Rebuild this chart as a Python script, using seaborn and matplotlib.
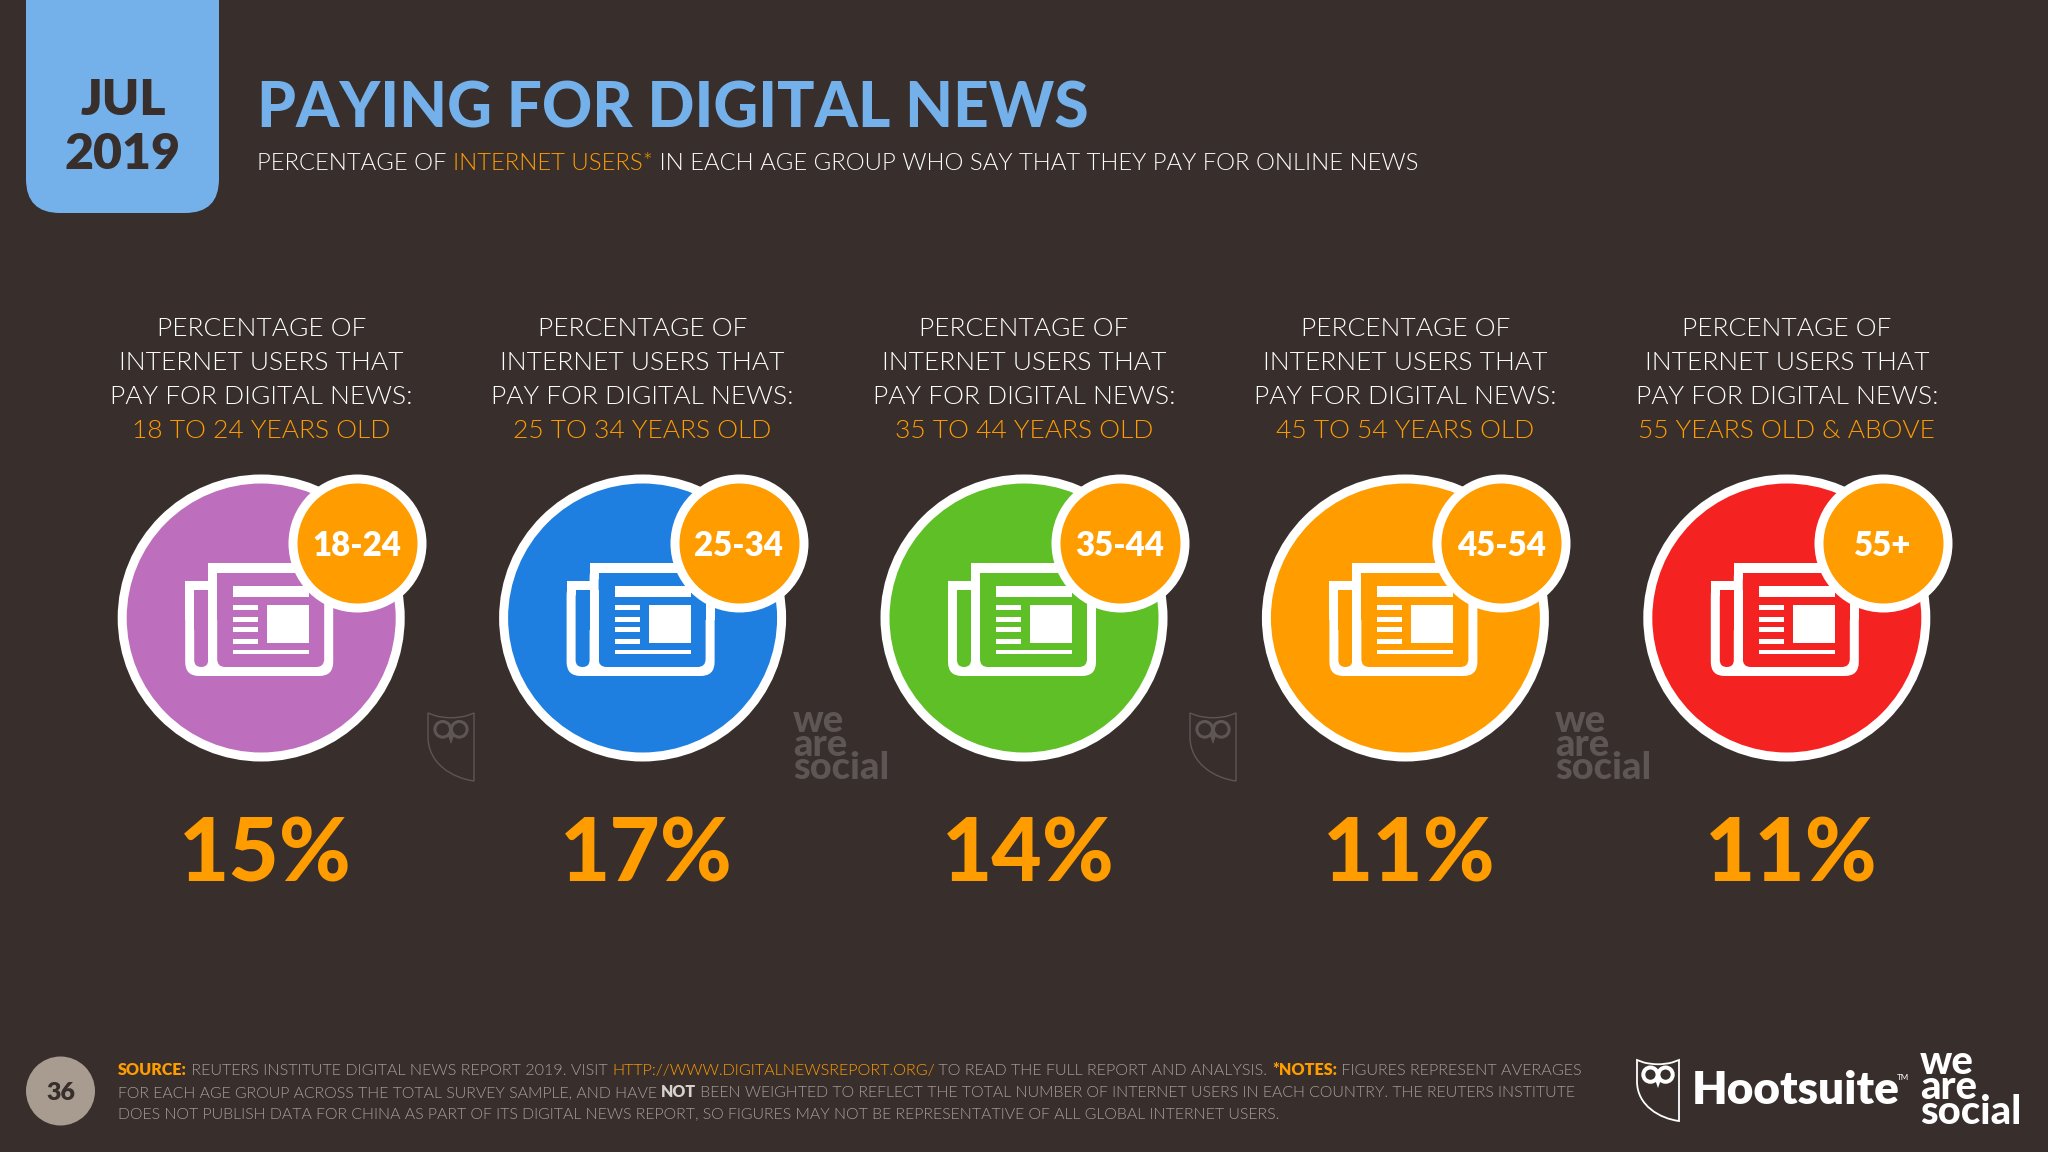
import re, os
import matplotlib
matplotlib.use("Agg")
import matplotlib.pyplot as plt
from matplotlib import font_manager as fm
from matplotlib.patches import FancyBboxPatch, Rectangle, PathPatch, Circle
from matplotlib.path import Path
import seaborn as sns
import pandas as pd

sns.set_theme(style="white")
plt.rcParams['font.family'] = ['Lato', 'DejaVu Sans']

age_badges = ["18-24", "25-34", "35-44", "45-54", "55+"]
age_labels = ["18 TO 24 YEARS OLD", "25 TO 34 YEARS OLD", "35 TO 44 YEARS OLD",
              "45 TO 54 YEARS OLD", "55 YEARS OLD & ABOVE"]
pay_share = [15, 17, 14, 11, 11]
circle_colors = ["#BD6FBD", "#1F7FE0", "#5FBF26", "#FF9C00", "#F52222"]

BG = "#382F2D"; ORANGE = "#FF9C00"; BLUE = "#74B1EA"; GREY = "#A89F98"; MARK = "#5E5654"

# Lato Light picked by file, since the weight name alone lands on a thinner cut
light_file = None
for f in fm.fontManager.ttflist:
    if re.fullmatch(r"Lato-Light\.[ot]tf", os.path.basename(f.fname)):
        light_file = f.fname
        break

def fprops(weight):
    if weight == "light":
        if light_file:
            return {"fontproperties": fm.FontProperties(fname=light_file)}
        return {"fontweight": "normal"}
    return {"fontweight": weight}

fig = plt.figure(figsize=(20.48, 11.52), dpi=100, facecolor=BG)
ax = fig.add_axes([0, 0, 1, 1])
ax.set_xlim(0, 2048); ax.set_ylim(1152, 0); ax.axis("off")
renderer = fig.canvas.get_renderer()

def pt(px):
    return px * 0.72

def put(x, y, s, size, color, weight, **kw):
    t = ax.text(x, y, s, color=color, va="baseline", **fprops(weight), **kw)
    t.set_fontsize(size)
    return t

def width(s, size, weight):
    t = put(0, 0, s + "|", size, "white", weight)
    a = t.get_window_extent(renderer).width
    t.set_text("|")
    b = t.get_window_extent(renderer).width
    t.remove()
    return a - b

def runs(x, y, parts, size):
    for s, color, weight in parts:
        put(x, y, s, size, color, weight, ha="left")
        x += width(s, size, weight)

def owl(x0, y0, w, h, color, lw, z=3):
    def P(a, b):
        return (x0 + a * w, y0 + b * h)
    verts = [P(0, 0), P(.16, .04), P(.32, .07), P(.5, .07), P(.68, .07), P(.84, .04), P(1, 0),
             P(1, 1), P(.55, .96), P(0, .75), P(0, .35), P(0, 0)]
    codes = [Path.MOVETO, Path.LINETO, Path.CURVE3, Path.CURVE3, Path.CURVE3, Path.CURVE3, Path.LINETO,
             Path.LINETO, Path.CURVE4, Path.CURVE4, Path.CURVE4, Path.CLOSEPOLY]
    ax.add_patch(PathPatch(Path(verts, codes), fc="none", ec=color, lw=lw, zorder=z))
    for a in (.32, .68):
        ax.add_patch(Circle(P(a, .24), w * .17, fc="none", ec=color, lw=lw * 2.2, zorder=z))
    ax.add_patch(PathPatch(Path([P(.42, .3), P(.58, .3), P(.5, .46), P(.42, .3)]), fc=color, ec="none", zorder=z))

# ---- header
ax.add_patch(FancyBboxPatch((26, -60), 193, 273, boxstyle="round,pad=0,rounding_size=34",
                            fc=BLUE, ec="none", zorder=1))
put(123, 115, "JUL", pt(50), BG, "heavy", ha="center", zorder=2)
put(123, 169, "2019", pt(50), BG, "heavy", ha="center", zorder=2)
put(257, 127, "PAYING FOR DIGITAL NEWS", pt(62), BLUE, "black")
runs(257, 170, [("PERCENTAGE OF ", "white", "light"), ("INTERNET USERS*", ORANGE, "light"),
                (" IN EACH AGE GROUP WHO SAY THAT THEY PAY FOR ONLINE NEWS", "white", "light")], pt(23.9))

# ---- columns
centers = [261.2 + 381.4 * i for i in range(len(pay_share))]
df = pd.DataFrame({"x": centers, "y": [618] * 5, "age": age_badges})
d_main = pt(278); d_badge = pt(129)
sns.scatterplot(data=df, x="x", y="y", hue="age", palette=circle_colors, s=d_main ** 2,
                edgecolor="white", linewidth=pt(9), legend=False, ax=ax, zorder=2, clip_on=False)
ax.set_xlim(0, 2048); ax.set_ylim(1152, 0); ax.axis("off")

for cx, age, val, lab, col in zip(centers, age_badges, pay_share, age_labels, circle_colors):
    for y, s, c in [(336, "PERCENTAGE OF", "white"), (370, "INTERNET USERS THAT", "white"),
                    (404, "PAY FOR DIGITAL NEWS:", "white"), (438, lab, ORANGE)]:
        put(cx, y, s, pt(26.4), c, "light", ha="center")
    # newspaper icon
    def box(x0, y0, x1, y1, fc, r=0, z=3):
        if r:
            ax.add_patch(FancyBboxPatch((cx + x0, y0), x1 - x0, y1 - y0,
                                        boxstyle=f"round,pad=0,rounding_size={r}", fc=fc, ec="none", zorder=z))
        else:
            ax.add_patch(Rectangle((cx + x0, y0), x1 - x0, y1 - y0, fc=fc, ec="none", zorder=z))
    box(-76, 581, 40, 676, "white", 14)
    box(-53, 563, 72, 676, "white", 14)
    box(-76, 581, -40, 620, "white", 0)
    box(-53, 563, 72, 620, "white", 0)
    box(-44, 573, 63, 667, col, 8, 4)
    box(-44, 573, 63, 620, col, 0, 4)
    box(-67, 590, -53, 667, col, 7, 4)
    box(-67, 590, -53, 630, col, 0, 4)
    box(-53, 590, -44, 676, "white", 0, 5)
    box(-28, 586, 48, 597, "white", 0, 5)
    box(6, 605, 48, 643, "white", 0, 5)
    for yy in (605, 617, 627, 639):
        box(-28, yy, -3, yy + 4.5, "white", 0, 5)
    box(-28, 650, 48, 654, "white", 0, 5)
    put(cx + 4, 882, f"{val}%", pt(87), ORANGE, "black", ha="center")

bdf = pd.DataFrame({"x": [c + 96 for c in centers], "y": [543] * 5})
sns.scatterplot(data=bdf, x="x", y="y", color=ORANGE, s=d_badge ** 2, edgecolor="white",
                linewidth=pt(9), legend=False, ax=ax, zorder=6, clip_on=False)
ax.set_xlim(0, 2048); ax.set_ylim(1152, 0); ax.axis("off")
for cx, age in zip(centers, age_badges):
    put(cx + 96, 556, age, pt(33), "white", "heavy", ha="center", zorder=7)

# ---- watermarks
for x0 in (428, 1190):
    owl(x0, 713, 46, 68, MARK, 1.0)
for x0 in (793, 1555):
    put(x0, 779, "we\nare\nsocial", pt(38), MARK, "black", linespacing=0.62, ha="left")

# ---- footer
ax.add_patch(Circle((60.5, 1091), 34.5, fc="#A79C8F", ec="none"))
put(60.5, 1100, "36", pt(25), BG, "heavy", ha="center")
fs = pt(16.1); fs2 = pt(15.9)
runs(118, 1075, [("SOURCE:", ORANGE, "heavy"), (" REUTERS INSTITUTE DIGITAL NEWS REPORT 2019. VISIT ", GREY, "light"),
                 ("HTTP://WWW.DIGITALNEWSREPORT.ORG/", ORANGE, "light"),
                 (" TO READ THE FULL REPORT AND ANALYSIS. ", GREY, "light"), ("*NOTES:", ORANGE, "heavy"),
                 (" FIGURES REPRESENT AVERAGES", GREY, "light")], fs)
runs(118, 1097, [("FOR EACH AGE GROUP ACROSS THE TOTAL SURVEY SAMPLE, AND HAVE ", GREY, "light"), ("NOT", "#D8D2CC", "heavy"),
                 (" BEEN WEIGHTED TO REFLECT THE TOTAL NUMBER OF INTERNET USERS IN EACH COUNTRY. THE REUTERS INSTITUTE", GREY, "light")], fs2)
runs(118, 1118, [("DOES NOT PUBLISH DATA FOR CHINA AS PART OF ITS DIGITAL NEWS REPORT, SO FIGURES MAY NOT BE REPRESENTATIVE OF ALL GLOBAL INTERNET USERS.", GREY, "light")], fs2)

owl(1637, 1060, 42, 61, "white", 1.3)
put(1692, 1104, "Hootsuite", pt(46), "white", "heavy")
put(1897, 1080, "TM", pt(8), "white", "normal")
put(1920, 1124, "we\nare\nsocial", pt(40), "white", "black", linespacing=0.6, ha="left")

fig.savefig("out.png", dpi=100, facecolor=BG)
